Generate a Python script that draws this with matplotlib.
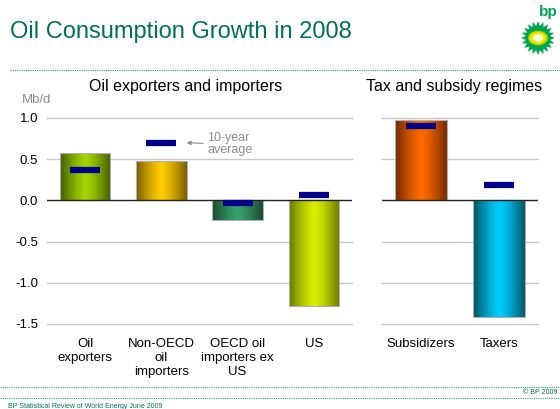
import numpy as np
import matplotlib
matplotlib.use("Agg")
import matplotlib.pyplot as plt
from matplotlib.colors import LinearSegmentedColormap
from matplotlib.patches import Polygon, Circle

plt.rcParams['font.family'] = ['Liberation Sans', 'DejaVu Sans']

# Données (Mb/d)
cat_left = ["Oil\nexporters", "Non-OECD\noil\nimporters", "OECD oil\nimporters ex\nUS", "US"]
growth_left = [0.58, 0.48, -0.24, -1.28]
avg_left = [0.37, 0.70, -0.03, 0.06]

cat_right = ["Subsidizers", "Taxers"]
growth_right = [0.97, -1.41]
avg_right = [0.90, 0.19]

# Couleurs des barres (bord sombre, centre clair)
col_left = [("#3f5c00", "#a6d400"), ("#7a5c00", "#ffcc00"),
            ("#1a4a30", "#35a06a"), ("#6a7800", "#d8f000")]
col_right = [("#6e2800", "#ff6a00"), ("#00505f", "#00ccff")]

yticks = [1.0, 0.5, 0.0, -0.5, -1.0, -1.5]
teal = "#00705a"

fig = plt.figure(figsize=(5.6, 4.09), dpi=100, facecolor='w')
W, H = 560, 409


def make_ax(x0, x1, y_top, y_bot):
    return fig.add_axes([x0 / W, 1 - y_bot / H, (x1 - x0) / W, (y_bot - y_top) / H])


def draw_panel(ax, cats, vals, avgs, cols, width):
    x = np.arange(len(cats))
    for y in yticks:
        if y != 0:
            ax.axhline(y, color="#c8c8c8", lw=1.0, zorder=0, clip_on=False)
    bars = ax.bar(x, vals, width=width, color="none", edgecolor="#b0b0b0", lw=0.8, zorder=2)
    # Dégradé horizontal dans chaque barre
    grad = 1 - np.abs(np.linspace(-1, 1, 256)) ** 1.3
    for b, (c_dark, c_light) in zip(bars, cols):
        cmap = LinearSegmentedColormap.from_list("g", [c_dark, c_light])
        x0, y0 = b.get_x(), b.get_y()
        w, h = b.get_width(), b.get_height()
        im = ax.imshow(grad[np.newaxis, :], cmap=cmap, aspect='auto',
                       extent=(x0, x0 + w, y0, y0 + h), zorder=1)
        im.set_clip_path(b)
    ax.set_xlim(-0.5, len(cats) - 0.5)
    ax.set_ylim(-1.5, 1.0)
    ax.axhline(0, color="#222222", lw=1.0, zorder=3)
    ax.plot(x, avgs, linestyle="none", marker="_", markersize=21,
            mew=4.5, color="#00008b", zorder=4)
    ax.set_xticks(x)
    ax.set_xticklabels(cats, fontsize=9.5, linespacing=1.25)
    ax.tick_params(axis='x', length=0, pad=10)
    for s in ax.spines.values():
        s.set_visible(False)


ax1 = make_ax(47, 352, 118, 324)
draw_panel(ax1, cat_left, growth_left, avg_left, col_left, 0.66)
ax1.set_yticks(yticks)
ax1.set_yticklabels(["%.1f" % v for v in yticks], fontsize=9.5)
ax1.tick_params(axis='y', length=0, pad=6.5)
ax1.annotate("10-year\naverage", xy=(1.33, avg_left[1]), xytext=(1.6, avg_left[1] - 0.02),
             fontsize=9, color="#8c8c8c", va='center', ha='left', linespacing=1.0,
             arrowprops=dict(arrowstyle="-|>", color="#8c8c8c", lw=0.8,
                             mutation_scale=6, shrinkA=1, shrinkB=0))

ax2 = make_ax(382, 538, 118, 324)
draw_panel(ax2, cat_right, growth_right, avg_right, col_right, 0.67)
ax2.set_yticks([])

# Titres des panneaux et unité
fig.text(186 / W, 1 - 86 / H, "Oil exporters and importers", fontsize=11.5,
         ha='center', va='center')
fig.text(454 / W, 1 - 86 / H, "Tax and subsidy regimes", fontsize=11.5,
         ha='center', va='center')
fig.text(22 / W, 1 - 100 / H, "Mb/d", fontsize=9.5, color="#8c8c8c",
         ha='left', va='center')

# Titre et décor
fig.text(10 / W, 1 - 32 / H, "Oil Consumption Growth in 2008", fontsize=17,
         color=teal, ha='left', va='center')
for yy in [70, 387, 398]:
    fig.add_artist(plt.Line2D([10 / W if yy == 70 else 0, 1], [1 - yy / H] * 2,
                              transform=fig.transFigure, color="#3aa08a",
                              lw=0.8, ls=(0, (1, 1))))
fig.text(8 / W, 1 - 406 / H, "BP Statistical Review of World Energy June 2009",
         fontsize=5, color=teal, ha='left', va='center')
fig.text(557 / W, 1 - 392 / H, "© BP 2009", fontsize=5, color=teal,
         ha='right', va='center')

# Logo bp (approximatif)
cx, cy, r = 538, 38, 17
n = 20
ang = np.linspace(0, 2 * np.pi, 2 * n + 1)[:-1]
rad = np.where(np.arange(2 * n) % 2 == 0, r, r * 0.72)
pts = [((cx + rr * np.cos(a)) / W, 1 - (cy + rr * np.sin(a)) / H) for a, rr in zip(ang, rad)]
fig.add_artist(Polygon(pts, closed=True, transform=fig.transFigure, color="#00a651", lw=0))
for rr, c in [(10, "#a8d400"), (8, "#ffe600"), (5, "#ffffdd")]:
    fig.add_artist(Circle((cx / W, 1 - cy / H), rr / W, transform=fig.transFigure,
                          color=c, lw=0))
fig.text(558 / W, 1 - 12 / H, "bp", fontsize=11, color="#00a651", ha='right',
         va='center', fontweight='bold')

plt.savefig("out.png", dpi=100)
